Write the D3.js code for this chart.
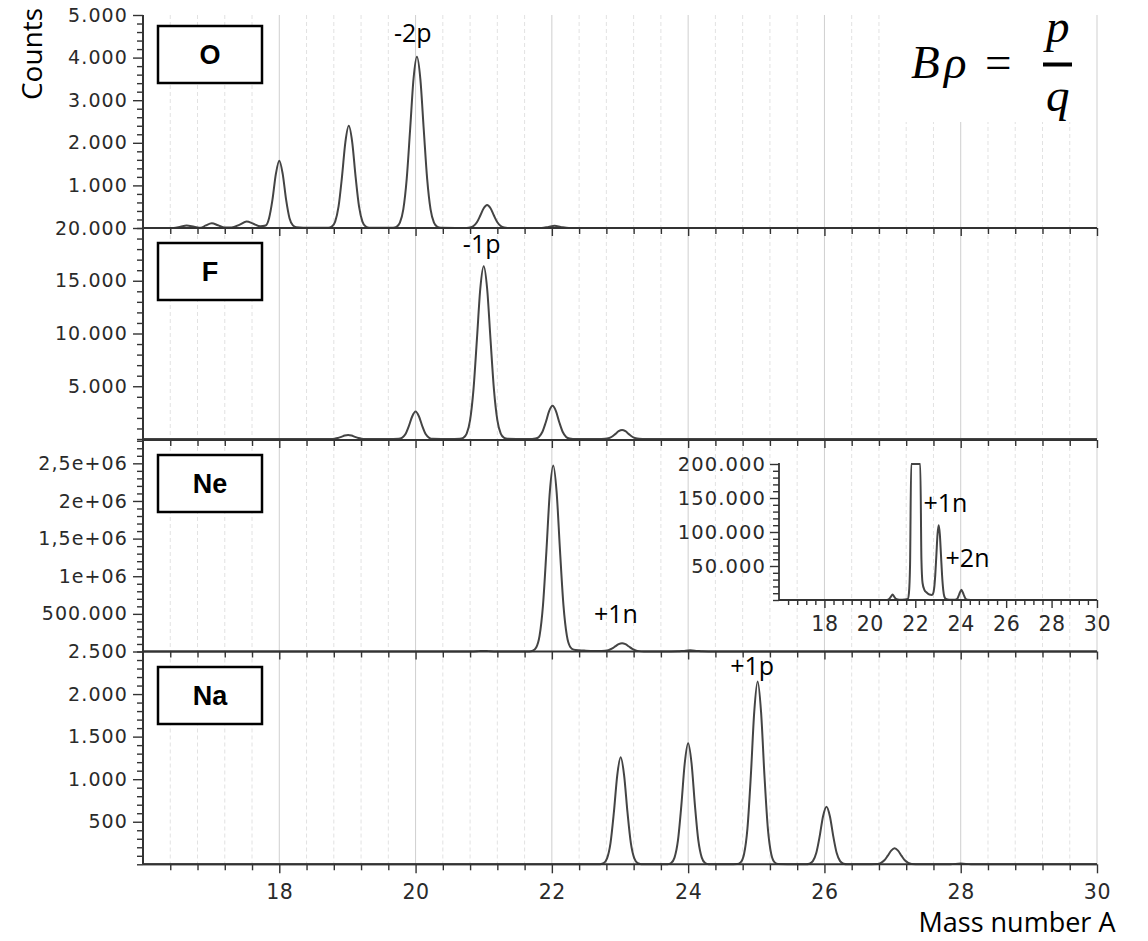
<!DOCTYPE html>
<html><head><meta charset="utf-8">
<script src="https://cdn.jsdelivr.net/npm/d3@7"></script>
<style>body{margin:0;background:#fff}svg{display:block}</style>
</head><body><svg id="c" width="1148" height="941"></svg>
<script>
// ---------- DATA ----------
const spectrumO = [[16.0,0],[16.45,0],[16.55,30],[16.64,60],[16.75,30],[16.85,5],[16.92,60],[17.01,110],[17.1,65],[17.2,10],[17.3,10],[17.42,80],[17.52,150],[17.62,100],[17.72,40],[17.8,60],[17.85,230],[17.9,665],[17.95,1270],[18.0,1580],[18.05,1270],[18.1,665],[18.15,230],[18.2,60],[18.25,15],[18.35,5],[18.72,5],[18.77,32],[18.82,151],[18.87,506],[18.92,1200],[18.97,2018],[19.02,2400],[19.07,2018],[19.12,1200],[19.17,506],[19.22,151],[19.27,32],[19.32,5],[19.67,5],[19.72,27],[19.77,125],[19.82,438],[19.87,1154],[19.92,2312],[19.97,3501],[20.02,4020],[20.07,3501],[20.12,2312],[20.17,1154],[20.22,438],[20.27,125],[20.32,27],[20.37,5],[20.75,2],[20.8,11],[20.85,46],[20.9,135],[20.95,292],[21.0,463],[21.05,540],[21.1,463],[21.15,292],[21.2,135],[21.25,46],[21.3,11],[21.35,2],[21.85,0],[21.95,25],[22.04,50],[22.13,25],[22.25,0],[30.0,0]];
const spectrumF = [[16.0,0],[18.6,0],[18.76,8],[18.81,32],[18.86,95],[18.91,205],[18.96,326],[19.01,380],[19.06,326],[19.11,205],[19.16,95],[19.21,32],[19.26,8],[19.6,0],[19.75,20],[19.8,114],[19.85,442],[19.9,1196],[19.95,2132],[20.0,2600],[20.05,2132],[20.1,1196],[20.15,442],[20.2,114],[20.25,20],[20.5,0],[20.65,18],[20.7,111],[20.75,508],[20.8,1785],[20.85,4701],[20.9,9419],[20.95,14267],[21.0,16380],[21.05,14267],[21.1,9419],[21.15,4701],[21.2,1785],[21.25,508],[21.3,111],[21.35,18],[21.6,0],[21.71,6],[21.76,41],[21.81,198],[21.86,663],[21.91,1570],[21.96,2641],[22.01,3140],[22.06,2641],[22.11,1570],[22.16,663],[22.21,198],[22.26,41],[22.31,6],[22.6,0],[22.73,3],[22.78,18],[22.83,73],[22.88,215],[22.93,464],[22.98,737],[23.03,860],[23.08,737],[23.13,464],[23.18,215],[23.23,73],[23.28,18],[23.33,3],[23.6,0],[30.0,0]];
const spectrumNe = [[16.0,0],[20.75,0],[20.85,1500],[20.93,5000],[21.0,8000],[21.07,5000],[21.15,1500],[21.3,300],[21.55,600],[21.67,1500],[21.72,10000],[21.77,52000],[21.82,210000],[21.87,617000],[21.92,1334000],[21.97,2117000],[22.02,2470000],[22.07,2117000],[22.12,1334000],[22.17,617000],[22.22,210000],[22.27,60000],[22.32,25000],[22.4,15000],[22.5,11000],[22.62,8000],[22.73,7400],[22.78,9000],[22.83,17000],[22.88,37000],[22.93,67000],[22.98,97000],[23.03,110000],[23.08,97000],[23.13,67000],[23.18,36000],[23.23,15000],[23.28,5000],[23.35,1500],[23.5,500],[23.75,500],[23.85,2000],[23.93,8000],[24.03,15000],[24.13,8000],[24.21,2000],[24.3,400],[24.6,0],[30.0,0]];
const spectrumNa = [[16.0,0],[22.6,0],[22.71,2],[22.76,13],[22.81,69],[22.86,245],[22.91,609],[22.96,1049],[23.01,1258],[23.06,1049],[23.11,609],[23.16,245],[23.21,69],[23.26,13],[23.31,2],[23.6,0],[23.7,2],[23.75,15],[23.8,78],[23.85,277],[23.9,689],[23.95,1187],[24.0,1423],[24.05,1187],[24.1,689],[24.15,277],[24.2,78],[24.25,15],[24.3,2],[24.6,0],[24.72,3],[24.77,23],[24.82,118],[24.87,419],[24.92,1040],[24.97,1791],[25.02,2148],[25.07,1791],[25.12,1040],[25.17,419],[25.22,118],[25.27,23],[25.32,3],[25.6,0],[25.73,1],[25.78,7],[25.83,37],[25.88,132],[25.93,328],[25.98,565],[26.03,677],[26.08,565],[26.13,328],[26.18,132],[26.23,37],[26.28,7],[26.33,1],[26.6,0],[26.78,4],[26.83,16],[26.88,47],[26.93,102],[26.98,161],[27.03,188],[27.08,161],[27.13,102],[27.18,47],[27.23,16],[27.28,4],[27.4,0],[27.85,0],[28.0,10],[28.15,0],[30.0,0]];

const panelNames = ['O','F','Ne','Na'];
const yMaxima = [5000, 20000, 2810000, 2500];
const minorSteps = [200, 1000, 100000, 100];
const oTicks = [1000,2000,3000,4000,5000];
const oLabels = ['1.000','2.000','3.000','4.000','5.000'];
const fTicks = [5000,10000,15000,20000];
const fLabels = ['5.000','10.000','15.000','20.000'];
const neTicks = [500000,1000000,1500000,2000000,2500000];
const neLabels = ['500.000','1e+06','1,5e+06','2e+06','2,5e+06'];
const naTicks = [500,1000,1500,2000,2500];
const naLabels = ['500','1.000','1.500','2.000','2.500'];
const insetTicks = [50000,100000,150000,200000];
const insetLabels = ['50.000','100.000','150.000','200.000'];
const xTicks = [18,20,22,24,26,28,30];
const xTickLabels = ['18','20','22','24','26','28','30'];
const peakLabelText = ['-2p','-1p','+1n','+1p'];
const peakLabelMass = [19.96, 20.97, 22.94, 24.94];
const peakLabelCounts = [4357, 17586, 375000, 2227];
const insetLabelText = ['+1n','+2n'];
const insetLabelMass = [23.33, 24.30];
const insetLabelCounts = [129900, 49000];

// ---------- LAYOUT ----------
const spectra = [spectrumO, spectrumF, spectrumNe, spectrumNa];
const tickSets = [oTicks, fTicks, neTicks, naTicks];
const labelSets = [oLabels, fLabels, neLabels, naLabels];
const tops = [15, 228, 440, 651.5];
const bottoms = [228, 439, 651.5, 864.3];
const boxTops = [26, 243, 455, 667];
const AX = '#333';
const TICKFONT = '"DejaVu Sans", Verdana, sans-serif';
const CURVE = '#444';

const svg = d3.select('#c');
const x = d3.scaleLinear().domain([16,30]).range([143,1097]);
const xMinor = d3.range(164, 301, 4).map(v => v/10);
const isMajor = v => Math.abs(v - Math.round(v)) < 1e-6 && Math.round(v) % 2 === 0;

const gGrid = svg.append('g');
const gMain = svg.append('g');

function styleAxis(g, fontSize) {
  g.select('.domain').remove();
  g.selectAll('.tick line').attr('stroke', AX).attr('stroke-width', 1.4);
  g.selectAll('.tick text').attr('fill', '#2a2a2a').style('font-family', TICKFONT)
    .style('font-size', fontSize + 'px').style('letter-spacing', '1.1px');
}

const line = d3.line().curve(d3.curveMonotoneX);

panelNames.forEach((name, i) => {
  const y = d3.scaleLinear().domain([0, yMaxima[i]]).range([bottoms[i], tops[i]]);
  gGrid.selectAll(null).data(xMinor).enter().append('line')
    .attr('x1', d => x(d)).attr('x2', d => x(d))
    .attr('y1', tops[i]).attr('y2', bottoms[i])
    .attr('stroke', d => isMajor(d) ? '#cfcfcf' : '#e2e2e2')
    .attr('stroke-width', 1)
    .attr('stroke-dasharray', d => isMajor(d) ? null : '4,3');
  gMain.append('path').datum(spectra[i])
    .attr('d', line.x(d => x(d[0])).y(d => y(d[1])))
    .attr('fill', 'none').attr('stroke', CURVE).attr('stroke-width', 2).attr('stroke-linejoin', 'round');
  const minor = d3.range(0, yMaxima[i] + 1, minorSteps[i]).filter(v => !tickSets[i].includes(v));
  const gm = gMain.append('g').attr('transform', 'translate(143,0)')
    .call(d3.axisLeft(y).tickValues(minor).tickSize(6).tickFormat(''));
  styleAxis(gm, 19);
  const ga = gMain.append('g').attr('transform', 'translate(143,0)')
    .call(d3.axisLeft(y).tickValues(tickSets[i]).tickFormat((d, k) => labelSets[i][k]).tickSize(10).tickPadding(5));
  styleAxis(ga, 19);
  if (i > 0) {
    const gt = gMain.append('g').attr('transform', `translate(0,${tops[i]})`)
      .call(d3.axisBottom(x).tickValues(xMinor).tickSizeOuter(0).tickSize(6).tickFormat(''));
    gt.select('.domain').remove();
    gt.selectAll('.tick line').attr('y2', d => isMajor(d) ? 8 : 6).attr('stroke', AX).attr('stroke-width', 1.4);
    gMain.append('line').attr('x1', 143).attr('x2', 1097).attr('y1', tops[i]).attr('y2', tops[i])
      .attr('stroke', AX).attr('stroke-width', 2);
  }
});

gGrid.append('rect').attr('x', 904).attr('y', 12).attr('width', 172).attr('height', 110).attr('fill', '#fff');

gMain.append('line').attr('x1', 143).attr('x2', 143).attr('y1', 15).attr('y2', 864.3)
  .attr('stroke', AX).attr('stroke-width', 2);

const gxm = gMain.append('g').attr('transform', 'translate(0,864.3)')
  .call(d3.axisBottom(x).tickValues(xMinor.filter(v => !isMajor(v))).tickSize(6).tickFormat(''));
styleAxis(gxm, 20);
const gx = gMain.append('g').attr('transform', 'translate(0,864.3)')
  .call(d3.axisBottom(x).tickValues(xTicks).tickFormat((d, k) => xTickLabels[k]).tickSize(9).tickPadding(11));
styleAxis(gx, 20.5);
gx.selectAll('.tick text').style('letter-spacing', '0.6px');
gMain.append('line').attr('x1', 143).attr('x2', 1097).attr('y1', 864.3).attr('y2', 864.3)
  .attr('stroke', AX).attr('stroke-width', 2);

panelNames.forEach((name, i) => {
  gMain.append('rect').attr('x', 158).attr('y', boxTops[i]).attr('width', 104).attr('height', 57)
    .attr('fill', '#fff').attr('stroke', '#000').attr('stroke-width', 2.5);
  gMain.append('text').attr('x', 210).attr('y', boxTops[i] + 28.5).attr('dy', '0.36em')
    .attr('text-anchor', 'middle').style('font-family', '"Liberation Sans", Arial, sans-serif')
    .style('font-weight', 'bold').style('font-size', '27px').attr('fill', '#000').text(name);
});

const LBLFONT = '"Open Sans", "Liberation Sans", sans-serif';
peakLabelText.forEach((t, i) => {
  const y = d3.scaleLinear().domain([0, yMaxima[i]]).range([bottoms[i], tops[i]]);
  gMain.append('text').attr('x', x(peakLabelMass[i])).attr('y', y(peakLabelCounts[i]))
    .attr('text-anchor', 'middle').style('font-family', LBLFONT).style('font-size', '25px')
    .attr('fill', '#000').text(t);
});

// ---------- INSET ----------
const xi = d3.scaleLinear().domain([16,30]).range([779,1097]);
const yi = d3.scaleLinear().domain([0,200000]).range([600,464]).clamp(true);
gMain.append('path').datum(spectrumNe)
  .attr('d', d3.line().curve(d3.curveMonotoneX).x(d => xi(d[0])).y(d => yi(d[1])))
  .attr('fill', 'none').attr('stroke', CURVE).attr('stroke-width', 2).attr('stroke-linejoin', 'round');
const insetMinor = d3.range(0, 200001, 10000).filter(v => !insetTicks.includes(v));
const gim = gMain.append('g').attr('transform', 'translate(779,0)')
  .call(d3.axisLeft(yi).tickValues(insetMinor).tickSize(6).tickFormat(''));
styleAxis(gim, 19);
const gia = gMain.append('g').attr('transform', 'translate(779,0)')
  .call(d3.axisLeft(yi).tickValues(insetTicks).tickFormat((d, k) => insetLabels[k]).tickSize(9).tickPadding(4));
styleAxis(gia, 19.5);
gMain.append('line').attr('x1', 779).attr('x2', 779).attr('y1', 463).attr('y2', 600)
  .attr('stroke', AX).attr('stroke-width', 1.8);
const gixm = gMain.append('g').attr('transform', 'translate(0,600)')
  .call(d3.axisBottom(xi).tickValues(xMinor.filter(v => !isMajor(v))).tickSize(5).tickFormat(''));
styleAxis(gixm, 20);
const gix = gMain.append('g').attr('transform', 'translate(0,600)')
  .call(d3.axisBottom(xi).tickValues(xTicks).tickFormat((d, k) => xTickLabels[k]).tickSize(8).tickPadding(8));
styleAxis(gix, 20.5);
gix.selectAll('.tick text').style('letter-spacing', '0.6px');
gMain.append('line').attr('x1', 779).attr('x2', 1097).attr('y1', 600).attr('y2', 600)
  .attr('stroke', AX).attr('stroke-width', 1.8);
insetLabelText.forEach((t, i) => {
  gMain.append('text').attr('x', xi(insetLabelMass[i])).attr('y', yi(insetLabelCounts[i]))
    .attr('text-anchor', 'middle').style('font-family', LBLFONT).style('font-size', '25px')
    .attr('fill', '#000').text(t);
});

// ---------- AXIS TITLES ----------
gMain.append('text').attr('transform', 'translate(42,54) rotate(-90)').attr('text-anchor', 'middle')
  .style('font-family', LBLFONT).style('font-size', '28px').attr('fill', '#000').text('Counts');
gMain.append('text').attr('x', 1017).attr('y', 932).attr('text-anchor', 'middle')
  .style('font-family', LBLFONT).style('font-size', '27px').attr('fill', '#000').text('Mass number A');

// ---------- FORMULA ----------
const SERIF = '"Liberation Serif", "DejaVu Serif", serif';
const fg = gMain.append('g').style('font-family', SERIF).style('font-size', '47px').attr('fill', '#000');
fg.append('text').attr('x', 911).attr('y', 78).style('font-style', 'italic').text('B');
fg.append('text').attr('x', 944).attr('y', 78).style('font-style', 'italic').text('ρ');
fg.append('text').attr('x', 985).attr('y', 78).text('=');
fg.append('text').attr('x', 1046).attr('y', 42).style('font-style', 'italic').text('p');
fg.append('text').attr('x', 1046).attr('y', 111).style('font-style', 'italic').text('q');
fg.append('rect').attr('x', 1043).attr('y', 62.5).attr('width', 29).attr('height', 4).attr('fill', '#000');
</script></body></html>
